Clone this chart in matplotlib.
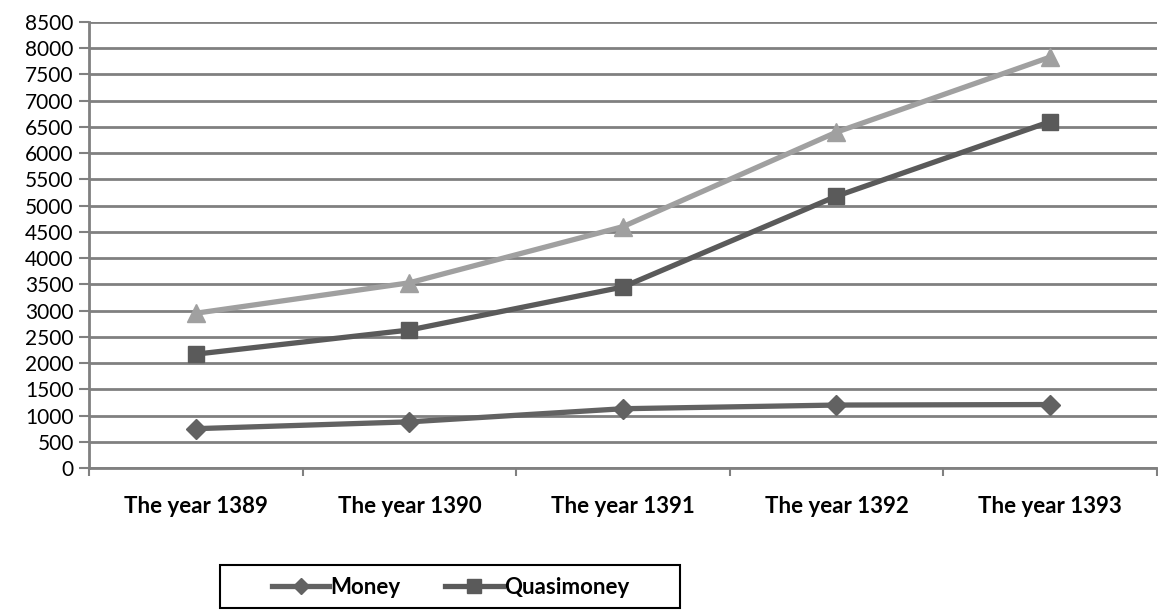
import matplotlib
matplotlib.use('Agg')
import matplotlib.pyplot as plt
from matplotlib.lines import Line2D
from matplotlib.patches import Rectangle
import numpy as np

# Data
years = ['The year 1389', 'The year 1390', 'The year 1391', 'The year 1392', 'The year 1393']
money = [750, 880, 1130, 1200, 1210]
quasimoney = [2170, 2630, 3450, 5180, 6600]
liquidity = [2950, 3530, 4600, 6400, 7830]
yticks = list(range(0, 8501, 500))

plt.rcParams['font.family'] = ['Lato', 'DejaVu Sans']

fig = plt.figure(figsize=(11.58, 6.11), dpi=100)
ax = fig.add_axes([0.0769, 0.234, 0.922, 0.730])

x = np.arange(len(years))
grid_col = '#808080'

for v in yticks:
    ax.axhline(v, color=grid_col, lw=2, zorder=1)

ax.plot(x, liquidity, color='#A0A0A0', lw=3.8, marker='^', ms=13, zorder=3)
ax.plot(x, quasimoney, color='#5A5A5A', lw=3.8, marker='s', ms=12, zorder=4)
ax.plot(x, money, color='#626262', lw=3.8, marker='D', ms=10, zorder=5)

ax.set_xlim(-0.5, len(years) - 0.5)
ax.set_ylim(0, 8500)
ax.set_yticks(yticks)
ax.set_yticklabels([str(v) for v in yticks], fontsize=15)

ax.set_xticks(x)
ax.set_xticklabels(years, fontsize=16, fontweight='bold')
ax.set_xticks(np.arange(len(years) + 1) - 0.5, minor=True)
ax.tick_params(axis='x', which='major', length=0, pad=20)
ax.tick_params(axis='x', which='minor', length=6, width=1.5, color=grid_col)
ax.tick_params(axis='y', length=7, width=1.5, color=grid_col, pad=4)

for s in ['top', 'right']:
    ax.spines[s].set_visible(False)
ax.spines['left'].set_color(grid_col)
ax.spines['left'].set_linewidth(2)
ax.spines['bottom'].set_color(grid_col)
ax.spines['bottom'].set_linewidth(2)

# legend only lists the first two series, like the reference
handles = [Line2D([], [], color='#626262', lw=3.8, marker='D', ms=8),
           Line2D([], [], color='#5A5A5A', lw=3.8, marker='s', ms=10)]
fig.legend(handles, ['Money', 'Quasimoney'],
           loc='center', bbox_to_anchor=(0.389, 0.039), ncol=2,
           frameon=False, prop={'weight': 'bold', 'size': 16},
           handlelength=2.6, handletextpad=0.05, columnspacing=2.0,
           borderpad=0, borderaxespad=0)
fig.patches.append(Rectangle((0.19, 0.005), 0.397, 0.070, transform=fig.transFigure,
                             fill=False, edgecolor='black', lw=1.5))

fig.savefig('out.png', dpi=100)
